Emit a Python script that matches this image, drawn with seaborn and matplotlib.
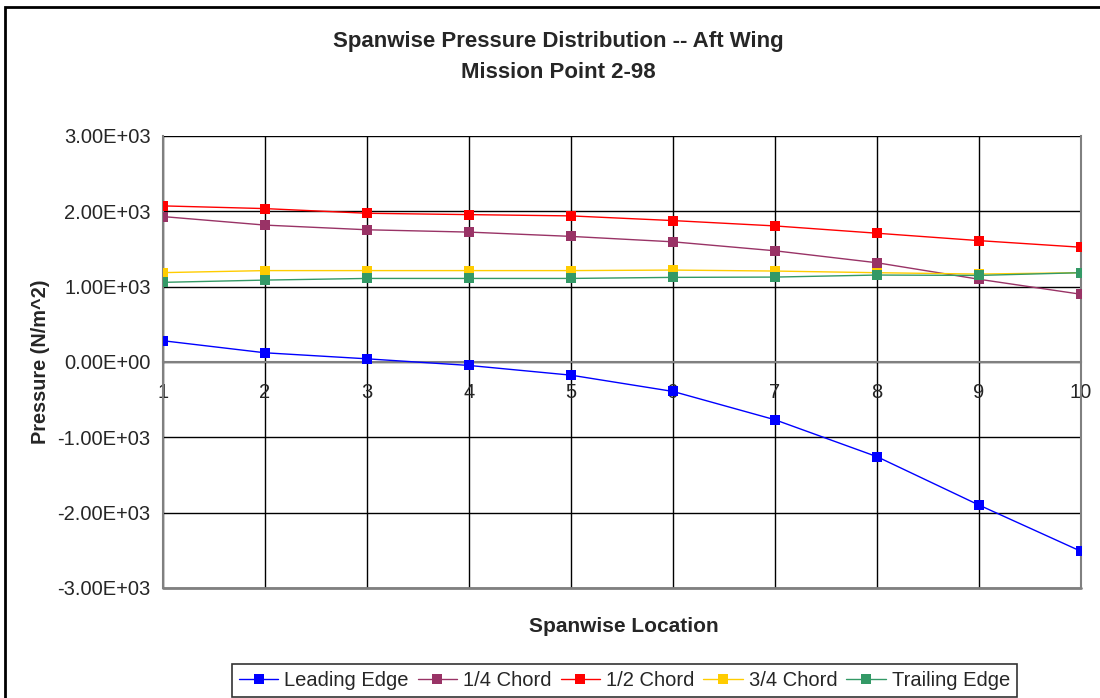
import numpy as np
import pandas as pd
import matplotlib
matplotlib.use("Agg")
import matplotlib.pyplot as plt
import seaborn as sns
from matplotlib.patches import Rectangle

# ── Données ─────────────────────────────────────────────────
location = [1, 2, 3, 4, 5, 6, 7, 8, 9, 10]
leading_edge = [282, 122, 42, -46, -175, -391, -767, -1257, -1899, -2513]
quarter_chord = [1930, 1817, 1755, 1724, 1667, 1595, 1476, 1317, 1098, 899]
half_chord = [2072, 2036, 1974, 1956, 1939, 1877, 1806, 1709, 1611, 1523]
three_quarter_chord = [1186, 1213, 1213, 1213, 1213, 1220, 1207, 1185, 1167, 1185]
trailing_edge = [1057, 1087, 1109, 1109, 1109, 1123, 1127, 1154, 1149, 1185]
ytick_labels = ["-3.00E+03", "-2.00E+03", "-1.00E+03", "0.00E+00",
                "1.00E+03", "2.00E+03", "3.00E+03"]

series = {
    "Leading Edge": leading_edge,
    "1/4 Chord": quarter_chord,
    "1/2 Chord": half_chord,
    "3/4 Chord": three_quarter_chord,
    "Trailing Edge": trailing_edge,
}
colors = {
    "Leading Edge": "#0000FF",
    "1/4 Chord": "#993366",
    "1/2 Chord": "#FF0000",
    "3/4 Chord": "#FFCC00",
    "Trailing Edge": "#339966",
}

df = pd.concat(
    [pd.DataFrame({"Location": location, "Pressure": v, "Series": k}) for k, v in series.items()],
    ignore_index=True,
)

# ── Figure ───────────────────────────────────────────────────
sns.set_style("white")
plt.rcParams["font.family"] = ["Liberation Sans", "DejaVu Sans"]

fig = plt.figure(figsize=(11, 6.98), dpi=100)
ax = fig.add_axes([0.1482, 0.1576, 0.8345, 0.6476])

sns.lineplot(data=df, x="Location", y="Pressure", hue="Series", palette=colors,
             marker="s", markersize=6.5, markeredgewidth=0, linewidth=1,
             ax=ax, legend=False, zorder=3)

ax.set_xlim(1, 10)
ax.set_ylim(-3000, 3000)
ax.set_xticks(location)
ax.set_yticks([-3000, -2000, -1000, 0, 1000, 2000, 3000])
ax.set_yticklabels(ytick_labels)
ax.set_xticklabels([str(v) for v in location])

ax.grid(True, color="black", linewidth=1)
ax.set_axisbelow(True)
ax.axhline(-3000, color="#808080", linewidth=2, zorder=2, clip_on=False)

# axe des x au niveau zéro, comme dans Excel
ax.spines["bottom"].set_position(("data", 0))
for s in ["bottom", "left", "right"]:
    ax.spines[s].set_color("#808080")
    ax.spines[s].set_linewidth(1.5)
ax.spines["top"].set_visible(False)
ax.tick_params(axis="y", direction="out", length=6, width=1, color="black",
               pad=3, labelsize=14.5)
ax.tick_params(axis="x", direction="out", length=4, width=1, color="black",
               pad=11, labelsize=14.5)

ax.set_xlabel("")
ax.set_ylabel("Pressure (N/m^2)", fontsize=14.3, fontweight="bold", labelpad=5)
fig.text(0.567, 0.103, "Spanwise Location", ha="center", va="center",
         fontsize=15, fontweight="bold")

fig.text(0.5075, 0.918, "Spanwise Pressure Distribution -- Aft Wing\nMission Point 2-98",
         ha="center", va="center", fontsize=16, fontweight="bold", linespacing=1.6)

handles = [plt.Line2D([], [], color=c, marker="s", markersize=6.5, markeredgewidth=0,
                      linewidth=1, label=k) for k, c in colors.items()]
leg = fig.legend(handles=handles, loc="lower center", bbox_to_anchor=(0.5677, 0.002),
                 ncol=5, fontsize=14.5, frameon=True, fancybox=False,
                 handlelength=1.95, columnspacing=0.45, handletextpad=0.3,
                 borderpad=0.35, borderaxespad=0)
leg.get_frame().set_edgecolor("black")
leg.get_frame().set_linewidth(1.2)

# cadre du graphique (haut et gauche visibles)
fig.patches.append(Rectangle((0.0045, -0.02), 1.1, 1 - 7 / 698 + 0.02,
                             transform=fig.transFigure, fill=False,
                             edgecolor="black", linewidth=2))

plt.savefig("out.png", dpi=100)
